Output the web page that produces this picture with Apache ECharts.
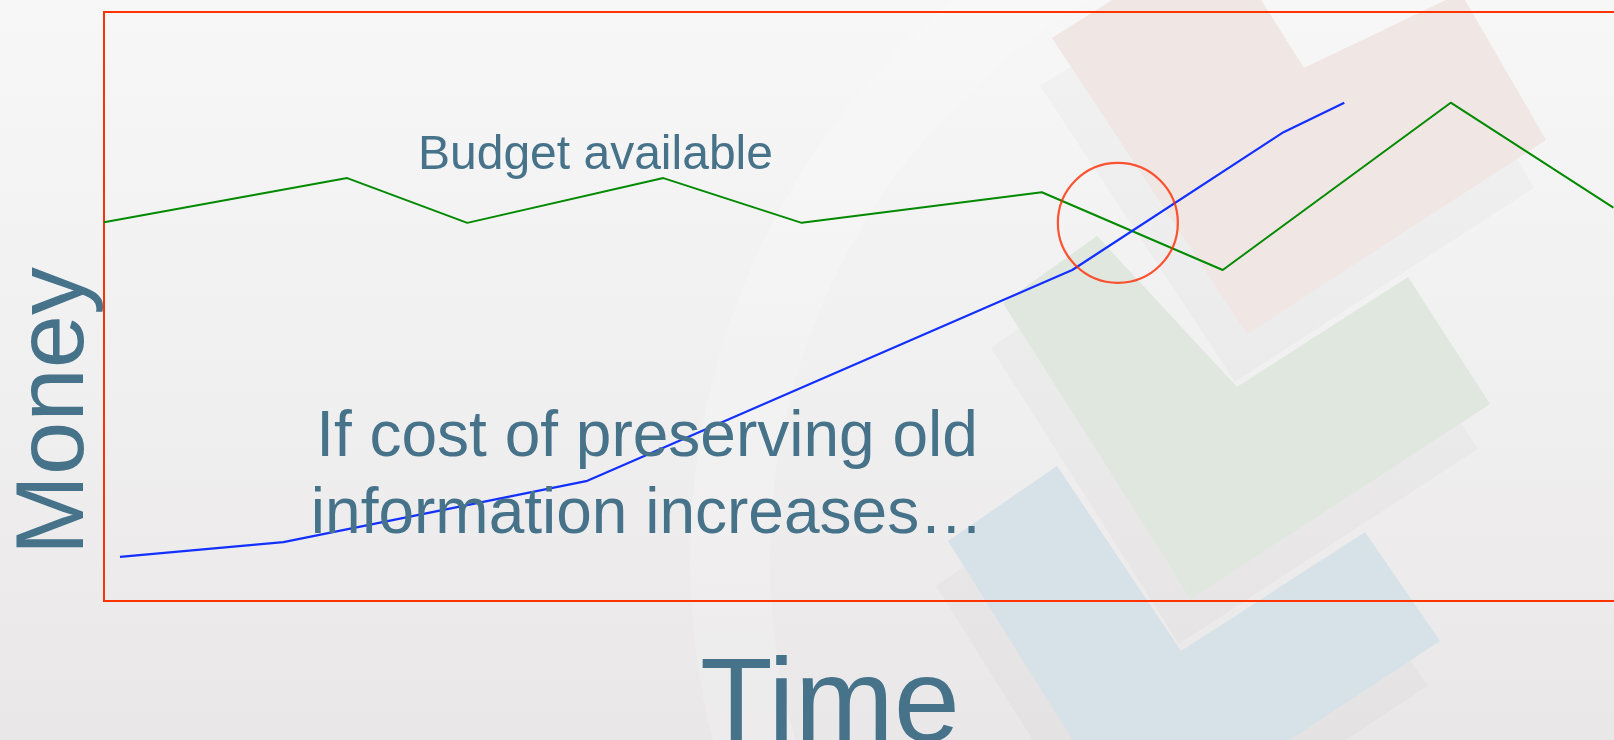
<!DOCTYPE html>
<html>
<head>
<meta charset="utf-8">
<script src="https://cdn.jsdelivr.net/npm/echarts@6/dist/echarts.min.js"></script>
<style>
html,body{margin:0;padding:0;background:#f2f2f2;overflow:hidden;width:1614px;height:740px;}
#chart{width:1660px;height:740px;}
</style>
</head>
<body>
<div id="chart"></div>
<script>
// ---- data (time / money in arbitrary units) ----
const budgetTime  = [0, 16.0, 23.9, 36.8, 45.9, 61.7, 73.6, 88.6, 99.3];
const budgetMoney = [64.3, 71.8, 64.2, 71.8, 64.2, 69.4, 56.2, 84.6, 66.8];
const costTime    = [1.05, 11.8, 31.8, 63.7, 77.6, 81.6];
const costMoney   = [7.5, 10.0, 20.4, 56.2, 79.6, 84.6];
const crossingPoint = [66.7, 64.2];
const xAxisTitle = 'Time';
const yAxisTitle = 'Money';
const budgetLabel = 'Budget available';
const noteLines = ['If cost of preserving old', 'information increases\u2026'];

const FONT = "'Liberation Sans', Arial, Helvetica, sans-serif";
const TXT = '#46728a';

const chart = echarts.init(document.getElementById('chart'), null, {renderer: 'canvas'});

function chevron(pts, fill) {
  return {type: 'polygon', silent: true, z: -5, shape: {points: pts}, style: {fill: fill}};
}
function shift(pts, dx, dy) { return pts.map(p => [p[0] + dx, p[1] + dy]); }

const pink  = [[1052,38],[1112,0],[1261,0],[1304,68],[1446,0],[1465,0],[1546,140],[1247,334]];
const green = [[1003,303],[1097,236],[1237,387],[1408,277],[1490,404],[1191,599]];
const blue  = [[948,541],[1057,466],[1181,651],[1365,532],[1440,641],[1136,841]];

const option = {
  backgroundColor: {
    type: 'linear', x: 0, y: 0, x2: 0, y2: 1,
    colorStops: [{offset: 0, color: '#f7f7f7'}, {offset: 0.5, color: '#f1f0f0'}, {offset: 1, color: '#e9e7e7'}]
  },
  animation: false,
  grid: {
    left: 104, top: 12, width: 1520, height: 589,
    show: true, borderColor: '#ff3300', borderWidth: 2, backgroundColor: 'transparent'
  },
  xAxis: {type: 'value', min: 0, max: 100, show: false},
  yAxis: {type: 'value', min: 0, max: 100, show: false},
  graphic: [
    {type: 'ring', silent: true, z: -6, shape: {cx: 1420, cy: 560, r: 730, r0: 650},
     style: {fill: 'rgba(255,255,255,0.18)'}},
    chevron(shift(pink, -12, 48), 'rgba(0,0,0,0.018)'),
    chevron(shift(green, -12, 45), 'rgba(0,0,0,0.018)'),
    chevron(shift(blue, -12, 45), 'rgba(0,0,0,0.018)'),
    chevron(pink, '#f0e6e3'),
    chevron(green, '#dfe7df'),
    chevron(blue, '#d7e2e8'),
    {type: 'text', z: 10, silent: true, x: 57, y: 411, rotation: Math.PI / 2,
     style: {text: yAxisTitle, fill: TXT, font: '96px ' + FONT, align: 'center', verticalAlign: 'middle'}},
    {type: 'text', z: 10, silent: true, x: 830, y: 708,
     style: {text: xAxisTitle, fill: TXT, font: '119px ' + FONT, align: 'center', verticalAlign: 'middle'}},
    {type: 'text', z: 10, silent: true, x: 418, y: 156,
     style: {text: budgetLabel, fill: TXT, font: '48px ' + FONT, align: 'left', verticalAlign: 'middle'}},
    {type: 'text', z: 10, silent: true, x: 647, y: 438,
     style: {text: noteLines[0], fill: TXT, font: '64px ' + FONT, align: 'center', verticalAlign: 'middle'}},
    {type: 'text', z: 10, silent: true, x: 647, y: 515,
     style: {text: noteLines[1], fill: TXT, font: '64px ' + FONT, align: 'center', verticalAlign: 'middle'}}
  ],
  series: [
    {
      name: 'Budget available', type: 'line', z: 3,
      data: budgetTime.map((t, i) => [t, budgetMoney[i]]),
      symbol: 'none', smooth: false,
      lineStyle: {color: '#008a00', width: 2}
    },
    {
      name: 'Cost of preservation', type: 'line', z: 3,
      data: costTime.map((t, i) => [t, costMoney[i]]),
      symbol: 'none', smooth: false,
      lineStyle: {color: '#1230ff', width: 2.2}
    },
    {
      name: 'Crossing', type: 'scatter', z: 4,
      data: [crossingPoint],
      symbol: 'circle', symbolSize: 120,
      itemStyle: {color: 'rgba(0,0,0,0)', borderColor: '#ff2a00', borderWidth: 2.2}
    }
  ]
};
chart.setOption(option);
</script>
</body>
</html>
